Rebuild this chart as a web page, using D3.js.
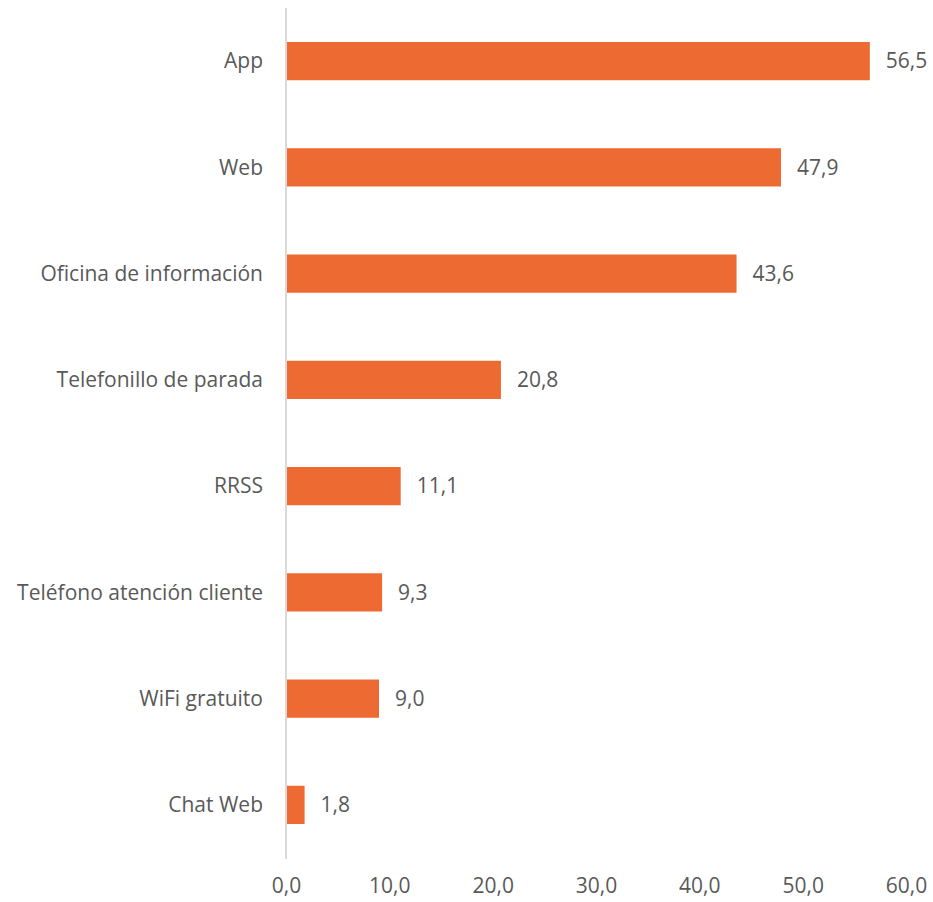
<!DOCTYPE html>
<html><head><meta charset="utf-8">
<script src="https://cdn.jsdelivr.net/npm/d3@7"></script>
<style>body{margin:0;background:#fff}svg{display:block}text{font-family:"Open Sans",sans-serif;fill:#595959}</style>
</head><body><svg id="c" width="933" height="902"></svg>
<script>
const categories = ["App","Web","Oficina de información","Telefonillo de parada","RRSS","Teléfono atención cliente","WiFi gratuito","Chat Web"];
const values = [56.5,47.9,43.6,20.8,11.1,9.3,9.0,1.8];
const tickValues = [0,10,20,30,40,50,60];

const svg = d3.select("#c");
const x = d3.scaleLinear().domain([0,60]).range([286,906]);
const y = d3.scaleBand().domain(categories).range([8,858]).paddingInner(0.64).paddingOuter(0.32);
const fmt = v => d3.format(".1f")(v).replace(".", ",");
const FS = 21;

svg.selectAll("rect.bar").data(values).join("rect").attr("class","bar")
  .attr("x", x(0)).attr("y", (d,i)=>y(categories[i]))
  .attr("width", d=>x(d)-x(0)).attr("height", y.bandwidth()).attr("fill","#ED6A32");

svg.append("line").attr("x1",x(0)).attr("x2",x(0)).attr("y1",8).attr("y2",859)
  .attr("stroke","#d9d9d9").attr("stroke-width",2);

svg.selectAll("text.val").data(values).join("text").attr("class","val")
  .attr("x", d=>x(d)+16).attr("y",(d,i)=>y(categories[i])+y.bandwidth()/2)
  .attr("dy","0.35em").attr("font-size",FS).text(fmt);

svg.selectAll("text.cat").data(categories).join("text").attr("class","cat")
  .attr("x",263).attr("y",d=>y(d)+y.bandwidth()/2).attr("dy","0.35em")
  .attr("text-anchor","end").attr("font-size",FS).text(d=>d);

const ax = d3.axisBottom(x).tickValues(tickValues).tickFormat(fmt).tickSize(0).tickPadding(0);
const g = svg.append("g").attr("transform","translate(0,880)").call(ax);
g.select(".domain").remove();
g.selectAll("text").attr("font-size",FS).attr("fill","#595959").attr("font-family","'Open Sans',sans-serif").attr("dy","0.35em").attr("y",6);
</script></body></html>
